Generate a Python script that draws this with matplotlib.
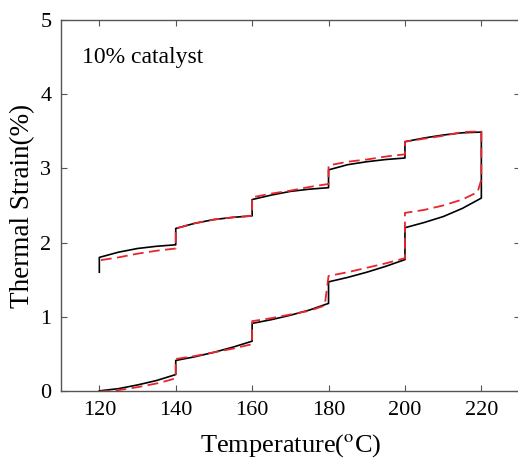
import matplotlib
matplotlib.use("Agg")
import matplotlib.pyplot as plt

# measured path (black, solid): heating branch then cooling branch
meas_T = [120, 125, 130, 135, 140,
          140, 145, 150, 155, 160,
          160, 165, 170, 175, 180,
          180, 185, 190, 195, 200,
          200, 205, 210, 215, 220,
          220, 215, 210, 205, 200,
          200, 195, 190, 185, 180,
          180, 175, 170, 165, 160,
          160, 155, 150, 145, 140,
          140, 135, 130, 125, 120,
          120]
meas_strain = [0.00, 0.03, 0.08, 0.14, 0.22,
               0.41, 0.46, 0.52, 0.59, 0.67,
               0.91, 0.96, 1.02, 1.09, 1.18,
               1.47, 1.53, 1.60, 1.68, 1.77,
               2.20, 2.27, 2.35, 2.46, 2.60,
               3.49, 3.48, 3.45, 3.41, 3.36,
               3.14, 3.12, 3.09, 3.05, 2.98,
               2.74, 2.72, 2.69, 2.64, 2.58,
               2.36, 2.34, 2.31, 2.26, 2.19,
               1.97, 1.95, 1.92, 1.87, 1.80,
               1.60]

# model path (red, dashed)
model_T = [120, 125, 130, 135, 138, 140,
           140, 145, 150, 155, 160,
           160, 165, 170, 175, 179,
           180, 185, 190, 195, 200,
           200, 205, 210, 215, 219, 220,
           220, 215, 210, 205, 200,
           200, 195, 190, 185, 180,
           180, 175, 170, 165, 160,
           160, 155, 150, 145, 140,
           140, 135, 130, 125, 120,
           120]
model_strain = [-0.01, 0.01, 0.05, 0.10, 0.14, 0.17,
                0.43, 0.47, 0.52, 0.57, 0.63,
                0.94, 0.98, 1.03, 1.08, 1.15,
                1.55, 1.60, 1.66, 1.72, 1.79,
                2.40, 2.44, 2.50, 2.58, 2.68, 2.85,
                3.50, 3.49, 3.44, 3.40, 3.36,
                3.19, 3.16, 3.12, 3.09, 3.04,
                2.79, 2.75, 2.70, 2.66, 2.61,
                2.36, 2.34, 2.31, 2.26, 2.19,
                1.92, 1.89, 1.85, 1.80, 1.76,
                1.74]

x_ticks = [120, 140, 160, 180, 200, 220]
y_ticks = [0, 1, 2, 3, 4, 5]

plt.rcParams['font.family'] = ['Liberation Serif', 'DejaVu Serif']
plt.rcParams['mathtext.fontset'] = 'stix'

fig = plt.figure(figsize=(5.18, 4.67), dpi=100)
ax = fig.add_axes([0.118, 0.163, 0.885, 0.794])

ax.plot(meas_T, meas_strain, color='black', lw=1.2)
ax.plot(model_T, model_strain, color='#e8242c', lw=1.3, ls=(0, (6, 3)))

ax.set_xlim(110, 230)
ax.set_ylim(0, 5)
ax.set_xticks(x_ticks)
ax.set_yticks(y_ticks)
ax.tick_params(direction='in', top=True, right=True, labelsize=16,
               length=4, color='#555555')
ax.tick_params(axis='x', pad=7)
ax.tick_params(axis='y', pad=7)
for s in ax.spines.values():
    s.set_color('#555555')
    s.set_linewidth(1.0)

ax.set_xlabel(r'Temperature($^{\mathrm{o}}$C)', fontsize=19, labelpad=9)
ax.set_ylabel('Thermal Strain(%)', fontsize=19.5, labelpad=4)
ax.text(0.046, 0.884, '10% catalyst', transform=ax.transAxes, fontsize=17)

fig.savefig('out.png', dpi=100)
